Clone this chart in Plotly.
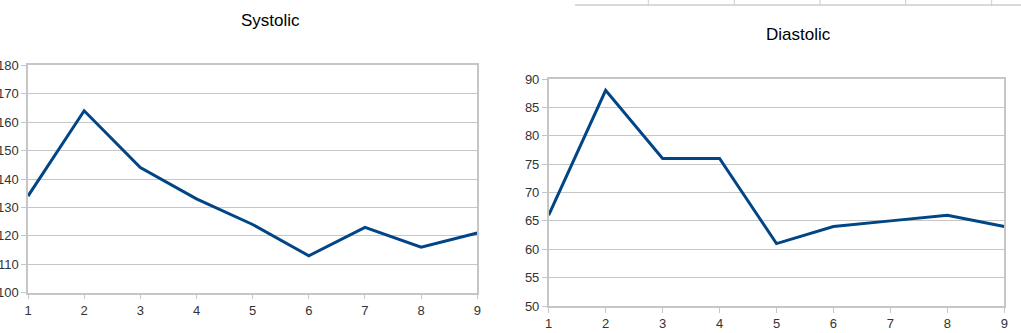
import plotly.graph_objects as go

W, H = 1021, 333

readings = [1, 2, 3, 4, 5, 6, 7, 8, 9]
systolic = [134, 164, 144, 133, 124, 113, 123, 116, 121]
diastolic = [66, 88, 76, 76, 61, 64, 65, 66, 64]

sys_ticks = [100, 110, 120, 130, 140, 150, 160, 170, 180]
dia_ticks = [50, 55, 60, 65, 70, 75, 80, 85, 90]

LINE = "#004586"
GRID = "#c6c6c6"
TXT = "#333333"
FONT = "Liberation Sans, Arial, sans-serif"

def px_x(p):
    return p / W

def px_y(p):
    return 1 - p / H

fig = go.Figure()
fig.add_trace(go.Scatter(x=readings, y=systolic, mode="lines",
                         line=dict(color=LINE, width=3), xaxis="x", yaxis="y",
                         showlegend=False, hoverinfo="x+y"))
fig.add_trace(go.Scatter(x=readings, y=diastolic, mode="lines",
                         line=dict(color=LINE, width=3), xaxis="x2", yaxis="y2",
                         showlegend=False, hoverinfo="x+y"))

xcommon = dict(range=[1, 9], tickmode="array", tickvals=readings,
               showgrid=False, zeroline=False, showline=True, mirror=True,
               linecolor=GRID, linewidth=1.5, ticks="outside", ticklen=5,
               tickcolor=GRID, tickfont=dict(family=FONT, size=13, color=TXT),
               fixedrange=True, automargin=False)
ycommon = dict(showgrid=True, gridcolor=GRID, gridwidth=1, zeroline=False,
               showline=True, mirror=True, linecolor=GRID, linewidth=1.5,
               ticks="outside", ticklen=5, tickcolor=GRID,
               tickfont=dict(family=FONT, size=13, color=TXT), fixedrange=True,
               automargin=False)

fig.update_layout(
    width=W, height=H,
    margin=dict(l=0, r=0, t=0, b=0, pad=0),
    paper_bgcolor="white", plot_bgcolor="white",
    xaxis=dict(xcommon, domain=[px_x(28), px_x(477.3)], anchor="y"),
    yaxis=dict(ycommon, domain=[px_y(292.7), px_y(65.3)], anchor="x",
               range=[100, 180], tickmode="array", tickvals=sys_ticks),
    xaxis2=dict(xcommon, domain=[px_x(548.7), px_x(1004.3)], anchor="y2"),
    yaxis2=dict(ycommon, domain=[px_y(306), px_y(79)], anchor="x2",
                range=[50, 90], tickmode="array", tickvals=dia_ticks),
    annotations=[
        dict(text="Systolic", x=px_x(270.7), y=px_y(20.7), xref="paper", yref="paper",
             xanchor="center", yanchor="middle", showarrow=False,
             font=dict(family=FONT, size=17, color="#000000")),
        dict(text="Diastolic", x=px_x(798.3), y=px_y(34.7), xref="paper", yref="paper",
             xanchor="center", yanchor="middle", showarrow=False,
             font=dict(family=FONT, size=17, color="#000000")),
    ],
)

# spreadsheet cell borders visible at the top right
cells = [648.3, 734.3, 820, 905.7, 991.7]
shapes = [dict(type="line", xref="paper", yref="paper",
               x0=px_x(575), x1=1, y0=px_y(5), y1=px_y(5),
               line=dict(color="#cccccc", width=1.5))]
for cx in cells:
    shapes.append(dict(type="line", xref="paper", yref="paper",
                       x0=px_x(cx), x1=px_x(cx), y0=1, y1=px_y(6),
                       line=dict(color="#cccccc", width=1)))
fig.update_layout(shapes=shapes)

fig.write_html("out.html", config={"displayModeBar": False})
